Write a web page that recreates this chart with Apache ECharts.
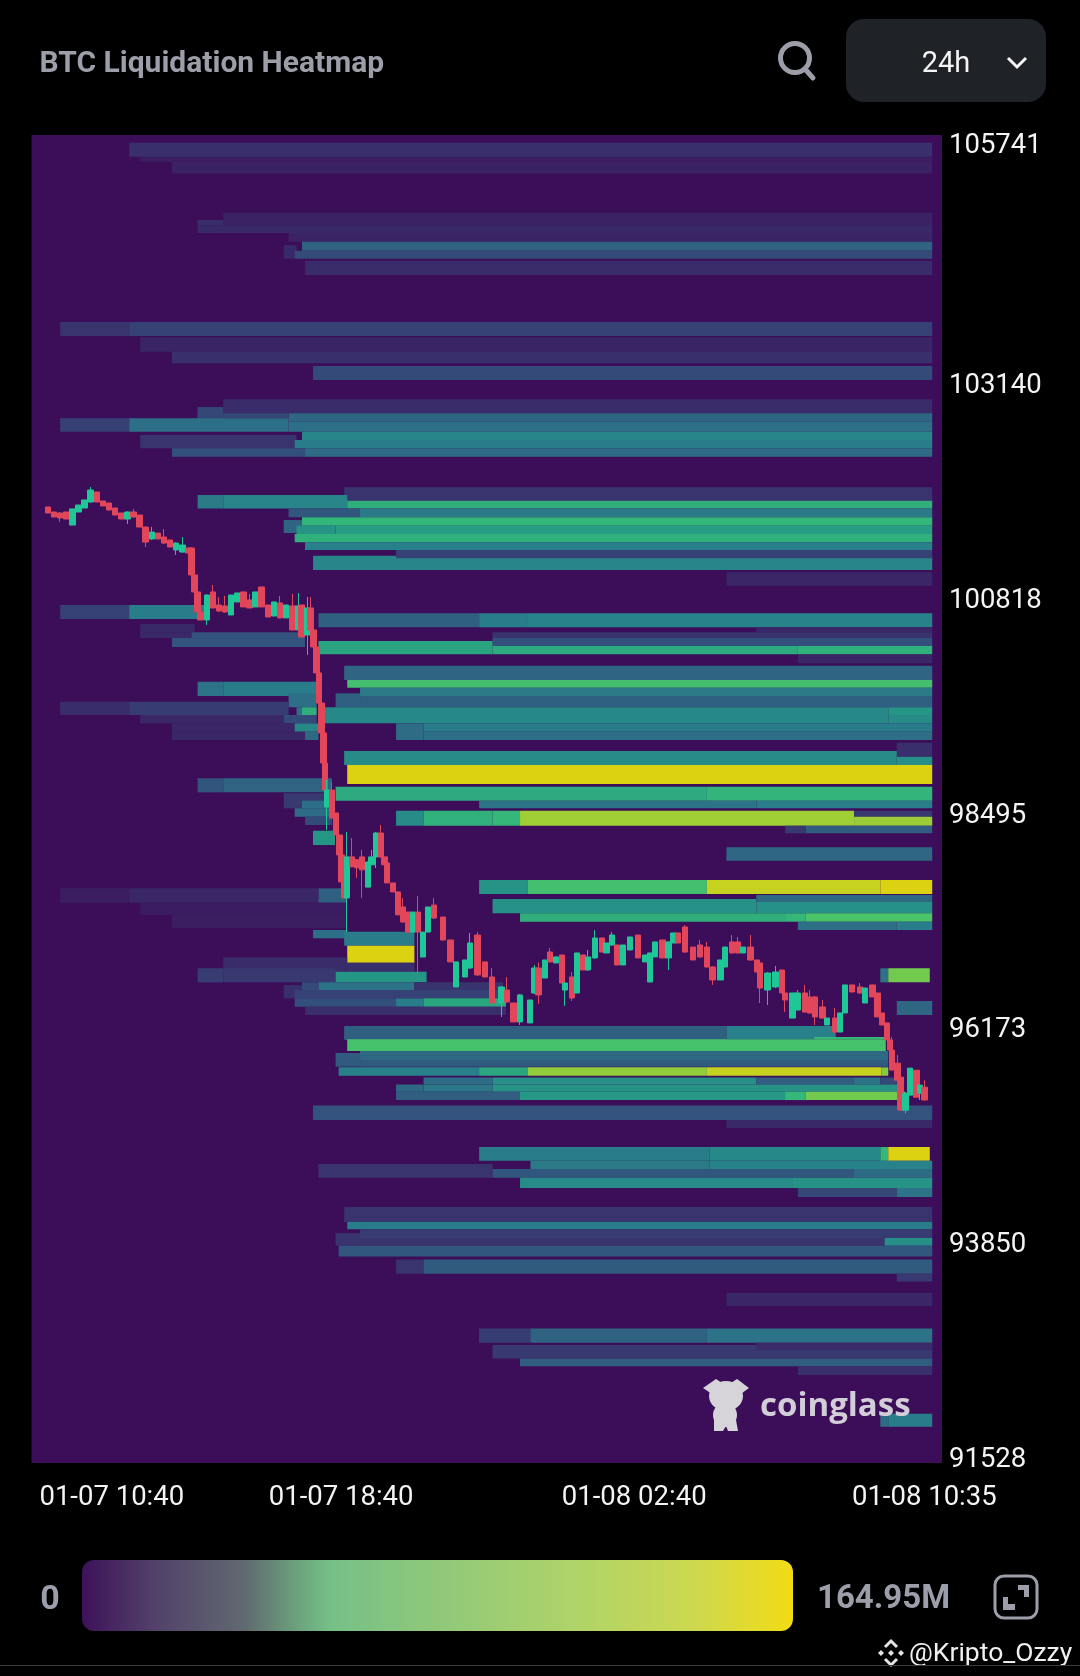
<!DOCTYPE html>
<html><head><meta charset="utf-8">
<style>html,body{margin:0;padding:0;background:#000}#c{width:1080px;height:1676px}</style>
<script src="https://cdn.jsdelivr.net/npm/echarts@6/dist/echarts.min.js"></script>
</head><body><div id="c"></div>
<script>
const priceTicks = [105741, 103140, 100818, 98495, 96173, 93850, 91528];
const timeTicks = [-14, 480, 960, 1435];
const timeTickLabels = ['01-07 10:40', '01-07 18:40', '01-08 02:40', '01-08 10:35'];
const legendMax = 164.95;

// Heat bands: [price high, price low, start minute, end minute, liquidation M]
const bandsTop = [
[105736,105584,133,1448,18],[105581,105527,151,1448,8],[105527,105403,203,1448,11],
[104979,104842,287,1448,11],[104900,104842,245,287,17],[104842,104759,245,1448,15],[104759,104665,394,1448,12],
[104629,104481,386,407,15],[104665,104568,416,1448,44],[104568,104481,404,1448,30],[104460,104305,421,1448,16],
[103797,103645,20,133,20],[103797,103645,133,1448,26],[103631,103475,151,1448,13],[103475,103350,203,1448,18],
[103321,103169,434,1448,30],[102961,102809,287,1448,16],[102877,102755,245,287,28],[102809,102755,245,394,28],
[102809,102718,394,1448,46],[102755,102610,20,133,25],[102755,102610,133,394,52],[102718,102610,394,1448,52],
[102574,102431,151,407,20],[102610,102520,416,1448,68],[102520,102431,404,1448,62],
[102431,102340,203,421,32],[102431,102340,421,1448,50]
];
const bands101k = [
[102009,101864,485,1448,20],[101926,101780,245,287,60],[101926,101780,287,490,68],[101864,101780,490,1448,95],
[101780,101684,394,511,36],[101780,101684,511,1448,60],[101684,101594,416,1448,99],[101655,101515,386,416,45],
[101594,101504,407,471,78],[101594,101504,471,1448,85],[101504,101414,404,1448,96],[101414,101331,421,1448,65],
[101269,101114,434,1448,68],[101331,101241,570,1448,26],[101090,100945,1111,1448,13]
];
const bands100k = [
[100736,100584,20,133,26],[100736,100584,133,260,62],
[100646,100495,443,706,42],[100646,100495,706,786,62],[100646,100495,786,1448,66],
[100530,100441,151,240,15],[100441,100379,151,235,15],[100441,100379,235,421,33],[100379,100282,203,421,34],
[100495,100441,1160,1448,14],[100441,100379,728,1448,20],[100379,100293,728,1448,32],
[100346,100203,443,728,88],[100293,100203,728,1228,92],[100293,100203,1228,1448,96],[100195,100105,1228,1448,14],
[100080,99925,485,1448,45],[99925,99842,490,1448,108],[99842,99744,511,1448,60],[99781,99630,471,511,42],[99744,99630,511,1448,42],
[99630,99456,449,1376,70],[99630,99546,1376,1448,80],[99546,99456,1376,1448,72],[99456,99366,615,1448,62],
[99456,99276,570,615,50],[99366,99276,615,1448,52],
[99906,99752,245,287,55],[99906,99752,287,440,62],[99781,99630,394,440,52],[99690,99546,20,133,17],[99690,99546,133,394,24],
[99630,99546,407,416,52],[99630,99546,416,440,95],[99546,99456,151,386,14],[99546,99456,386,440,30],
[99456,99366,203,404,14],[99456,99366,404,443,70],[99366,99276,203,421,14],[99366,99276,421,443,48]
];
const bands98k = [
[99247,99095,1390,1448,18],[99157,99006,485,1390,72],[99095,99006,1390,1448,75],[99006,98800,490,1448,163],
[98771,98620,471,1079,92],[98771,98620,1079,1448,98],[98620,98537,706,1160,55],[98620,98537,1160,1448,62],
[98511,98349,570,615,72],[98511,98349,615,728,96],[98511,98349,728,773,100],[98511,98349,773,1320,140],
[98511,98446,1320,1448,22],[98446,98349,1320,1448,138],[98349,98267,1207,1241,22],[98349,98267,1241,1448,40],
[98862,98710,245,287,35],[98862,98710,287,465,44],[98699,98537,386,465,22],[98620,98537,416,465,52],
[98537,98446,404,465,50],[98446,98357,421,465,30],[98295,98140,434,470,80],[98115,97971,1111,1448,46],
[97762,97610,706,786,78],[97762,97610,786,1079,108],[97762,97610,1079,1363,155],[97762,97610,1363,1448,163],
[97556,97402,728,1160,76],[97600,97524,1160,1448,48],[97524,97402,1160,1448,76],
[97402,97311,773,1207,95],[97402,97311,1207,1241,100],[97402,97311,1241,1448,112],
[97311,97221,1228,1390,52],[97311,97221,1390,1448,62]
];
const bands96k = [
[97672,97516,20,133,8],[97672,97516,133,443,14],[97672,97516,443,490,42],[97516,97383,151,490,7],[97383,97239,203,490,8],
[97221,97131,434,490,52],[97203,97051,485,600,62],[97051,96867,490,600,163],[96926,96770,287,490,16],[96867,96770,490,600,18],
[96807,96655,245,287,24],[96807,96655,287,471,22],[96770,96655,471,620,80],
[96655,96572,416,443,30],[96655,96572,443,600,55],[96655,96572,600,745,20],[96626,96482,386,416,18],[96572,96482,404,750,26],
[96482,96392,404,570,32],[96482,96392,570,615,62],[96482,96392,615,750,90],[96392,96302,421,750,18],
[96807,96655,1363,1376,55],[96807,96655,1376,1444,125],[96453,96302,1390,1448,46],
[96183,96031,485,1111,42],[96183,96040,1111,1290,65],[96064,96040,1255,1372,100],[96040,95912,490,1372,110],[95912,95815,511,1376,48],
[95891,95743,471,511,38],[95815,95743,511,1376,38],
[95736,95645,476,706,65],[95736,95645,706,786,90],[95736,95645,786,1079,135],[95736,95645,1079,1365,155],[95736,95645,1365,1376,130],
[95626,95550,615,728,50],[95626,95550,728,1160,74],[95626,95550,1160,1320,40],[95626,95550,1320,1363,55],[95626,95550,1363,1390,30],
[95550,95472,570,615,48],[95550,95472,615,728,58],[95550,95472,728,1400,78],
[95472,95382,570,773,40],[95472,95382,773,1207,82],[95472,95382,1207,1241,100],[95472,95382,1241,1404,125]
];
const bandsLow = [
[95322,95166,434,1448,33],[95166,95080,1111,1448,15],
[94874,94725,706,1083,62],[94874,94725,1083,1363,70],[94874,94725,1363,1376,100],[94874,94725,1376,1444,163],
[94690,94543,443,728,20],[94725,94636,790,1083,60],[94725,94636,1083,1448,66],
[94636,94543,728,1320,36],[94636,94543,1320,1448,50],[94543,94431,773,1220,72],[94543,94431,1220,1448,78],
[94431,94333,1228,1390,28],[94431,94333,1390,1448,55],
[94225,94063,485,1448,20],[94063,93984,490,1448,62],[93984,93890,511,1448,24],[93944,93807,471,511,20],
[93890,93807,511,1370,20],[93890,93807,1370,1448,75],[93807,93690,476,1448,36],
[93657,93504,570,615,20],[93657,93504,615,1448,38],[93504,93420,1390,1448,22],[93295,93155,1111,1448,14],
[92912,92758,706,790,24],[92912,92758,790,1079,44],[92912,92758,1079,1448,55],
[92733,92586,728,1448,22],[92758,92679,1160,1448,16],[92586,92502,773,1448,40],[92502,92408,1228,1448,18],
[91989,91849,1363,1376,50],[91989,91849,1376,1448,62]
];

// Candles: [minute, open, close, low, high]; low/high omitted when the wick is invisible
const candlesMorning = [
[0,101796,101731],[10,101742,101688],[20,101731,101677,101634,101740],[30,101742,101666],[40,101601,101775],[50,101742,101817],
[60,101785,101872],[70,101850,101980,101845,102012],[80,101958,101850],[90,101861,101807],[100,101839,101763],[110,101785,101709],
[120,101731,101666],[130,101666,101742,101612,101750],[140,101742,101688,101680,101774],[150,101709,101579],[160,101579,101417,101363,101585],
[170,101450,101525,101440,101580],[180,101514,101450],[190,101471,101406,101395,101558],[200,101439,101363],[210,101331,101406,101277,101415],
[220,101309,101385,101300,101471],[230,101352,101298],[235,101353,101061],[240,101061,100877],[245,100877,100661],[250,100661,100574],
[260,100574,100844,100520,100850],[270,100877,100704,100700,100953],[280,100736,100671,100660,100823],[290,100726,100661,100650,100835],
[300,100628,100844],[310,100769,100866],[320,100877,100715],[330,100790,100704,100700,100855],[340,100715,100877],[350,100931,100715],
[360,100736,100606],[370,100617,100769],[380,100758,100596,100590,100834],[390,100596,100736],[400,100726,100466,100460,100855],
[410,100466,100726,100460,100866],[415,100736,100390],[425,100412,100704,100196,100823],[430,100704,100466,100460,100823]
];
const candlesDrop = [
[435,100466,100282],[440,100282,100001],[444,100001,99676],[448,99676,99352],[451,99352,99027],[454,99027,98735],
[457,98552,98735,98303,98844],[465,98735,98432,98420,98822],[472,98487,98249],[477,98249,98033],[481,98033,97741],[485,97741,97568],
[490,97568,98012,97200,98281],[498,98012,97905,97900,98217],[506,97980,97894,97784,97990],[514,98012,97872,97568,98087],
[524,97685,97957],[530,97926,98012,97920,98087],[537,98012,98270,97892,98280],[545,98270,98012,98005,98357],[551,98012,97926],
[555,97947,97730],[565,97730,97633],[573,97633,97385],[581,97470,97308,97300,97567],[590,97415,97199],[598,97199,97415],
[606,97415,97199,96681,97589],[614,96929,97199],[622,97199,97470],[632,97491,97351,97340,97567]
];
const candlesNight = [
[647,97362,97113],[659,97113,96876],[668,96605,96876],[683,96713,96897],[691,96810,97081,96800,97189],[703,97167,96735,96725,97200],
[716,96876,96713],[727,96713,96432,96425,96810],[743,96432,96605,96281,96615],[752,96572,96443,96435,96713],[762,96432,96227],
[773,96227,96519,96194,96530],[789,96216,96464],[797,96540,96810,96530,96843],[803,96810,96519,96421,96870],[814,96702,96897],
[822,96983,96876,96870,97027],[832,96865,96930],[842,96951,96648],[847,96572,96648,96400,96655],[858,96713,96486,96454,96767],
[866,96540,96973],[876,96951,96789],[884,96789,96930,96780,97005],[896,96919,97135,96910,97221],[907,97135,96983],[915,96973,97081],
[924,97059,97167,97050,97200],[932,97059,96843],[942,96843,97059],[953,97005,97146],[966,97167,96919],[978,96876,96951],[986,96659,96973],[994,96930,97092]
];
const candlesDay2 = [
[1006,97113,96919],[1016,96919,97092,96789,97100],[1024,97081,97189],[1032,97189,97081],[1043,97254,96983,96975,97276],[1056,97037,96897],
[1068,97059,96930,96920,97113],[1079,97037,96821,96815,97092],[1088,96821,96681,96627,96830],[1101,96681,96897],[1109,96821,97037],
[1120,97092,96973,96965,97167],[1130,97092,96973,96965,97146],[1138,96973,97037],[1150,97037,96897,96890,97167],[1161,96897,96767],
[1166,96865,96594,96432,96875],[1178,96572,96756,96410,96765],[1191,96605,96767,96595,96832],[1202,96789,96540],[1207,96540,96464,96334,96550],
[1219,96269,96540],[1227,96356,96540,96350,96572],[1240,96540,96334,96325,96627],[1248,96497,96324,96315,96572],[1256,96497,96281,96194,96505],
[1268,96389,96269,96260,96464],[1276,96194,96269],[1289,96269,96118,96105,96378],[1297,96118,96324],[1305,96324,96627],[1317,96627,96551],
[1330,96605,96540,96530,96648],[1338,96432,96594],[1350,96627,96497],[1358,96540,96281],[1366,96324,96194],[1374,96216,96032],[1379,96032,95923],
[1382,95923,95707,95700,96064],[1391,95781,95597,95590,95869],[1396,95630,95273],[1404,95273,95456,95240,95465],[1412,95435,95727],
[1422,95705,95413],[1428,95456,95543,95383,95555],[1435,95521,95383,95375,95597]
];

const heatColors = ['#3c0e5a','#3a2c6a','#33527d','#2e6b85','#28828a','#259a85','#33b67a','#50c765','#8acc3f','#b5d02a','#e2d20f'];
const heatData = [].concat(bandsTop, bands101k, bands100k, bands98k, bands96k, bandsLow);
const candleData = [].concat(candlesMorning, candlesDrop, candlesNight, candlesDay2).map(r => {
  const lo = r[3] !== undefined ? r[3] : Math.min(r[1], r[2]);
  const hi = r[4] !== undefined ? r[4] : Math.max(r[1], r[2]);
  return [r[0], r[1], r[2], lo, hi];
});
const GREY = '#9c9ea9';
const chart = echarts.init(document.getElementById('c'), null, {renderer: 'canvas'});
chart.setOption({
  backgroundColor: '#000',
  animation: false,
  title: {text: 'BTC Liquidation Heatmap', left: 34.5, top: 44,
    textStyle: {color: GREY, fontFamily: 'Roboto', fontWeight: 'bold', fontSize: 30}},
  grid: {left: 31.5, right: 138, top: 135, bottom: 213, backgroundColor: '#3c0e5a', show: true, borderWidth: 0},
  xAxis: {type: 'value', min: -27, max: 1464, axisLine: {show: false}, axisTick: {show: false}, splitLine: {show: false},
    axisLabel: {customValues: timeTicks, alignMinLabel: 'left', margin: 21, color: '#f4f4f4', fontFamily: 'Roboto', fontSize: 27.5,
      formatter: v => timeTickLabels[timeTicks.indexOf(v)]}},
  yAxis: {type: 'value', position: 'right', min: 91457, max: 105819, axisLine: {show: false}, axisTick: {show: false}, splitLine: {show: false},
    axisLabel: {customValues: priceTicks, margin: 7, verticalAlign: 'top', lineHeight: 7, color: '#f4f4f4', fontFamily: 'Roboto', fontSize: 27.5, formatter: v => String(v)}},
  visualMap: {show: false, seriesIndex: 0, dimension: 4, min: 0, max: legendMax, inRange: {color: heatColors}},
  series: [
    {type: 'custom', data: heatData, encode: {x: [2, 3], y: [0, 1]}, clip: true, z: 1,
      renderItem: (p, api) => {
        const a = api.coord([api.value(2), api.value(0)]);
        const b = api.coord([api.value(3), api.value(1)]);
        return {type: 'rect', shape: {x: a[0], y: a[1], width: b[0] - a[0], height: b[1] - a[1]}, style: {fill: api.visual('color')}};
      }},
    {type: 'candlestick', data: candleData, encode: {x: 0, y: [1, 2, 3, 4]}, barWidth: 6, z: 3,
      itemStyle: {color: '#1fc796', color0: '#e2465a', borderColor: '#1fc796', borderColor0: '#e2465a', borderWidth: 1}}
  ],
  graphic: [
    {type: 'rect', z: 10, shape: {x: 846, y: 19, width: 200, height: 83, r: 18}, style: {fill: '#1f2226'}},
    {type: 'text', z: 11, style: {x: 946, y: 65, text: '24h', fill: '#f4f4f4', font: '29px Roboto', textAlign: 'center', textVerticalAlign: 'middle'}},
    {type: 'polyline', z: 11, shape: {points: [[1008, 58], [1017, 67], [1026, 58]]}, style: {stroke: '#f4f4f4', lineWidth: 3, fill: null}},
    {type: 'circle', z: 11, shape: {cx: 795, cy: 58, r: 14.5}, style: {stroke: GREY, lineWidth: 5, fill: null}},
    {type: 'line', z: 11, shape: {x1: 805, y1: 69, x2: 813, y2: 78}, style: {stroke: GREY, lineWidth: 5, lineCap: 'round'}},
    {type: 'text', z: 11, style: {x: 50, y: 1600, text: '0', fill: GREY, font: 'bold 34px Roboto', textAlign: 'center', textVerticalAlign: 'middle'}},
    {type: 'rect', z: 11, shape: {x: 82, y: 1560, width: 711, height: 71, r: 12},
      style: {fill: new echarts.graphic.LinearGradient(0, 0, 1, 0, [
        {offset: 0, color: '#3d1259'}, {offset: 0.1, color: '#52406a'}, {offset: 0.23, color: '#606a70'},
        {offset: 0.3, color: '#6ba07c'}, {offset: 0.35, color: '#75c088'}, {offset: 0.5, color: '#90c87a'},
        {offset: 0.7, color: '#b0d468'}, {offset: 0.86, color: '#cdd850'}, {offset: 1, color: '#f2dc14'}])}},
    {type: 'text', z: 11, style: {x: 817, y: 1600, text: '164.95M', fill: GREY, font: 'bold 33px Roboto', textVerticalAlign: 'middle'}},
    {type: 'rect', z: 11, shape: {x: 995, y: 1576, width: 42, height: 42, r: 9}, style: {stroke: GREY, lineWidth: 3, fill: null}},
    {type: 'polygon', z: 11, shape: {points: [[1018, 1585], [1029, 1585], [1029, 1597], [1024, 1597], [1024, 1590], [1018, 1590]]}, style: {fill: GREY}},
    {type: 'polygon', z: 11, shape: {points: [[1003, 1597], [1008, 1597], [1008, 1604], [1015, 1604], [1015, 1610], [1003, 1610]]}, style: {fill: GREY}},
    // coinglass mark
    {type: 'text', z: 5, style: {x: 760, y: 1407, text: 'coinglass', fill: '#d2ced8', font: 'bold 33px "Open Sans"', textVerticalAlign: 'middle'}},
    {type: 'ellipse', z: 5, shape: {cx: 726, cy: 1396, rx: 17, ry: 15}, style: {fill: '#d6d4d9'}},
    {type: 'polygon', z: 5, shape: {points: [[703, 1388], [716, 1379], [722, 1383], [731, 1383], [737, 1379], [749, 1388], [738, 1396], [715, 1396]]}, style: {fill: '#d6d4d9'}},
    {type: 'ellipse', z: 5, shape: {cx: 725, cy: 1415, rx: 12, ry: 12}, style: {fill: '#d6d4d9'}},
    {type: 'polygon', z: 5, shape: {points: [[714, 1420], [736, 1420], [738, 1431], [728, 1431], [726, 1426], [723, 1431], [714, 1431]]}, style: {fill: '#d6d4d9'}},
    // author tag
    {type: 'polyline', z: 11, shape: {points: [[885, 1647], [891, 1641], [897, 1647]]}, style: {stroke: '#e4e4e4', lineWidth: 3, fill: null}},
    {type: 'polyline', z: 11, shape: {points: [[885, 1659], [891, 1665], [897, 1659]]}, style: {stroke: '#e4e4e4', lineWidth: 3, fill: null}},
    {type: 'polygon', z: 11, shape: {points: [[891, 1650], [894, 1653], [891, 1656], [888, 1653]]}, style: {fill: '#e4e4e4'}},
    {type: 'polygon', z: 11, shape: {points: [[881, 1650], [884, 1653], [881, 1656], [878, 1653]]}, style: {fill: '#e4e4e4'}},
    {type: 'polygon', z: 11, shape: {points: [[901, 1650], [904, 1653], [901, 1656], [898, 1653]]}, style: {fill: '#e4e4e4'}},
    {type: 'text', z: 11, style: {x: 909, y: 1654, text: '@Kripto_Ozzy', fill: '#f0f0f0', font: '26.5px Roboto', textVerticalAlign: 'middle'}},
    {type: 'line', z: 11, shape: {x1: 0, y1: 1665.5, x2: 1080, y2: 1665.5}, style: {stroke: '#3a3d44', lineWidth: 1}}
  ]
});
</script></body></html>
